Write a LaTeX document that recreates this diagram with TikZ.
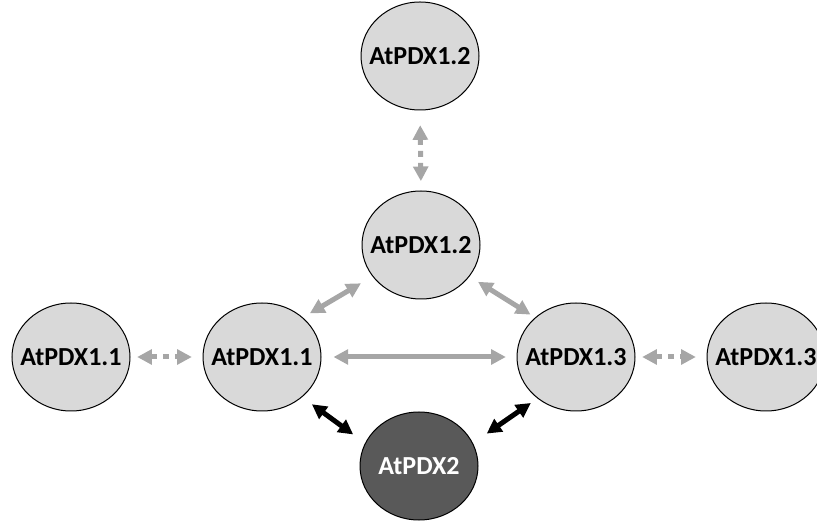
\documentclass[tikz,border=0pt]{standalone}
\usepackage{fontspec}
\setmainfont{Carlito}
\usetikzlibrary{shapes.geometric,arrows.meta}
\definecolor{pdxfill}{RGB}{217,217,217}
\definecolor{pdxdark}{RGB}{89,89,89}
\definecolor{linkgray}{RGB}{166,166,166}

\begin{document}
\begin{tikzpicture}[x=0.75pt,y=0.75pt,yscale=-1,xscale=1,
    protein/.style={ellipse,draw=black,line width=0.75pt,fill=pdxfill,minimum width=88.5pt,minimum height=81pt,inner xsep=-8pt,inner ysep=0pt,font=\fontsize{19.5}{23}\selectfont\bfseries},
    dimer/.style={protein,fill=pdxdark,text=white},
    link/.style={draw=linkgray,line width=3.75pt,{Triangle[length=11pt,width=11pt]}-{Triangle[length=11pt,width=11pt]}},
    weak/.style={link,dash pattern={on 4.5pt off 4.5pt}},
    strong/.style={link,draw=black}]
    %set diagram left start at 0, and has height of 523
    \path[use as bounding box] (0,0) rectangle (817,523);

    % Ellipse Nodes
    \node[protein] (top) at (420,56) {AtPDX1.2};
    \node[protein] (mid) at (421,245) {AtPDX1.2};
    \node[protein] (lout) at (71,357) {AtPDX1.1};
    \node[protein] (lin) at (262,357) {AtPDX1.1};
    \node[protein] (rin) at (576,357) {AtPDX1.3};
    \node[protein] (rout) at (766,357) {AtPDX1.3};
    \node[dimer] (pdx2) at (419,466) {AtPDX2};

    %Dashed Lines
    \draw[weak, shorten <=11pt, shorten >=7pt] (top.south) -- (mid.north);
    \draw[weak, shorten <=5pt, shorten >=8pt] (lout.east) -- (lin.west);
    \draw[weak, shorten <=5pt, shorten >=8pt] (rin.east) -- (rout.west);
    %Straight Lines
    \draw[link, shorten <=9pt, shorten >=8pt] (lin.east) -- (rin.west);
    \draw[link, shorten <=6pt, shorten >=10pt] (lin.44) -- (mid.213);
    \draw[link, shorten <=7.5pt, shorten >=4pt] (mid.-33) -- (rin.136);
    \draw[strong, shorten <=9pt, shorten >=11pt] (lin.-45) -- (pdx2.157);
    \draw[strong, shorten <=12.5pt, shorten >=6pt] (pdx2.23) -- (rin.-133);
\end{tikzpicture}
\end{document}
